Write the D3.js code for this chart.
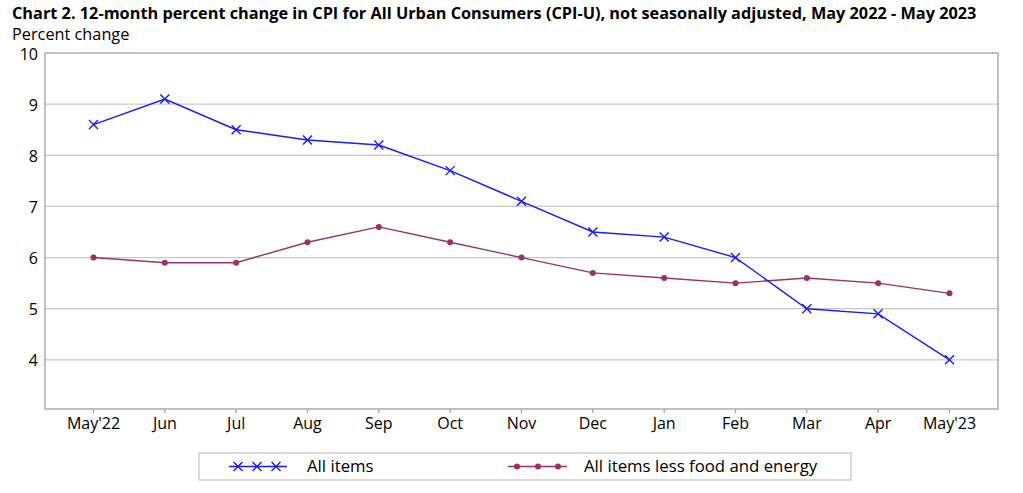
<!DOCTYPE html>
<html lang="en">
<head>
  <meta charset="UTF-8">
  <title>CPI-U 12-month percent change</title>
  <script src="https://d3js.org/d3.v7.min.js"></script>
  <style>
    body { margin: 0; background: #fff; font-family: "Open Sans", sans-serif; }
    svg { display: block; }
    .grid line { stroke: #c8c8c8; stroke-width: 1.3px; }
    .tick-label { font-size: 16px; fill: #000; }
    .legend-label { font-size: 16.8px; fill: #000; }
    .line { fill: none; stroke-width: 1.4px; }
  </style>
</head>
<body>
<svg width="1023" height="493"></svg>
<script>
const months = ["May'22", "Jun", "Jul", "Aug", "Sep", "Oct", "Nov", "Dec", "Jan", "Feb", "Mar", "Apr", "May'23"];
const allItems = [8.6, 9.1, 8.5, 8.3, 8.2, 7.7, 7.1, 6.5, 6.4, 6.0, 5.0, 4.9, 4.0];
const coreItems = [6.0, 5.9, 5.9, 6.3, 6.6, 6.3, 6.0, 5.7, 5.6, 5.5, 5.6, 5.5, 5.3];
const yTicks = [4, 5, 6, 7, 8, 9, 10];

const blue = "#1a1aff";
const purple = "#993366";

const svg = d3.select("svg");
const plot = { left: 45, right: 998, top: 53, bottom: 409 };

const x = d3.scalePoint().domain(months).range([plot.left, plot.right]).padding(0.68);
const y = d3.scaleLinear().domain([3, 10]).range([411, plot.top]);

// title
svg.append("text")
  .attr("x", 12).attr("y", 19)
  .style("font-weight", "bold").style("font-size", "16.3px")
  .text("Chart 2. 12-month percent change in CPI for All Urban Consumers (CPI-U), not seasonally adjusted, May 2022 - May 2023");
svg.append("text")
  .attr("x", 12).attr("y", 39.5)
  .style("font-size", "16.3px")
  .text("Percent change");

// gridlines
svg.append("g").attr("class", "grid")
  .selectAll("line")
  .data(yTicks.filter(d => d < 10))
  .join("line")
  .attr("x1", plot.left).attr("x2", plot.right)
  .attr("y1", d => y(d)).attr("y2", d => y(d));

// plot frame
svg.append("rect")
  .attr("x", plot.left).attr("y", plot.top)
  .attr("width", plot.right - plot.left).attr("height", plot.bottom - plot.top)
  .attr("fill", "none").attr("stroke", "#a0a0a0").attr("stroke-width", 1.3);

// y labels
svg.append("g")
  .selectAll("text")
  .data(yTicks)
  .join("text")
  .attr("class", "tick-label")
  .attr("x", plot.left - 7)
  .attr("y", d => y(d) + 1)
  .attr("dy", "0.35em")
  .attr("text-anchor", "end")
  .text(d => d);

// x ticks and labels
const xg = svg.append("g");
xg.selectAll("line")
  .data(months)
  .join("line")
  .attr("x1", d => x(d)).attr("x2", d => x(d))
  .attr("y1", plot.bottom).attr("y2", plot.bottom + 4)
  .attr("stroke", "#a0a0a0").attr("stroke-width", 1.2);
xg.selectAll("text")
  .data(months)
  .join("text")
  .attr("class", "tick-label")
  .attr("x", d => x(d))
  .attr("y", plot.bottom + 20)
  .attr("text-anchor", "middle")
  .text(d => d);

// lines
const lineGen = d3.line().x((d, i) => x(months[i])).y(d => y(d));

svg.append("path").datum(coreItems)
  .attr("class", "line").attr("stroke", purple).attr("d", lineGen);
svg.append("path").datum(allItems)
  .attr("class", "line").attr("stroke", blue).attr("d", lineGen);

function drawX(g, cx, cy, s) {
  g.append("path")
    .attr("d", `M${cx - s},${cy - s}L${cx + s},${cy + s}M${cx - s},${cy + s}L${cx + s},${cy - s}`)
    .attr("stroke", blue).attr("stroke-width", 1.4).attr("fill", "none");
}

const markers = svg.append("g");
allItems.forEach((v, i) => drawX(markers, x(months[i]), y(v), 4.5));
markers.selectAll("circle")
  .data(coreItems)
  .join("circle")
  .attr("cx", (d, i) => x(months[i]))
  .attr("cy", d => y(d))
  .attr("r", 3)
  .attr("fill", purple);

// legend
const lg = svg.append("g");
lg.append("rect")
  .attr("x", 199).attr("y", 453)
  .attr("width", 652).attr("height", 27)
  .attr("fill", "#fff").attr("stroke", "#c8c8c8").attr("stroke-width", 1.3);
const ly = 466.5;
lg.append("line").attr("x1", 229).attr("x2", 287).attr("y1", ly).attr("y2", ly)
  .attr("stroke", blue).attr("stroke-width", 1.4);
[238, 257, 276].forEach(cx => drawX(lg, cx, ly, 4.5));
lg.append("text").attr("class", "legend-label").attr("x", 307).attr("y", ly).attr("dy", "0.35em").text("All items");
lg.append("line").attr("x1", 508).attr("x2", 567).attr("y1", ly).attr("y2", ly)
  .attr("stroke", purple).attr("stroke-width", 1.4);
lg.selectAll("circle.leg")
  .data([517, 538, 558])
  .join("circle")
  .attr("cx", d => d).attr("cy", ly).attr("r", 3).attr("fill", purple);
lg.append("text").attr("class", "legend-label").attr("x", 584).attr("y", ly).attr("dy", "0.35em").text("All items less food and energy");
</script>
</body>
</html>
